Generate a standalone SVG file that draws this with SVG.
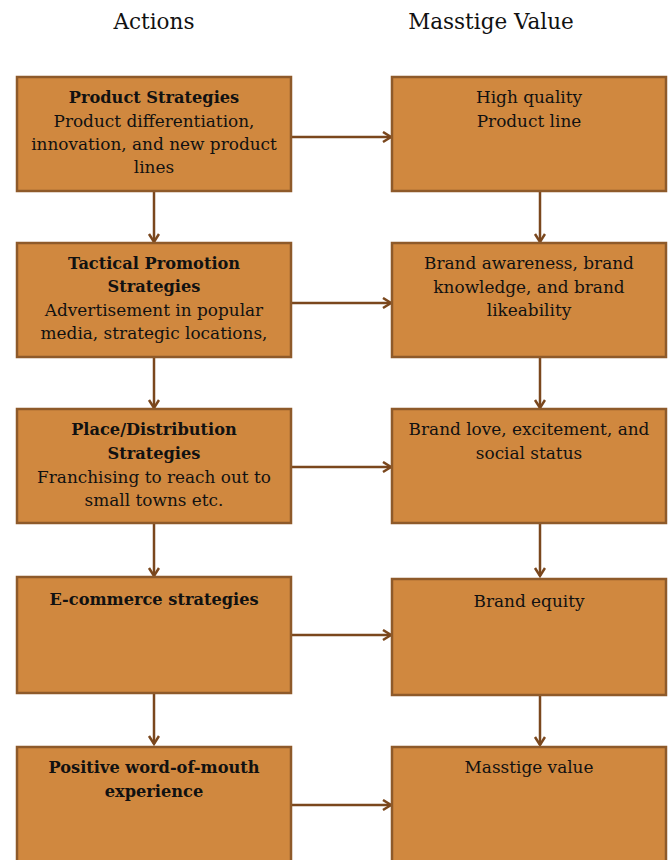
<svg xmlns="http://www.w3.org/2000/svg" width="672" height="860" viewBox="0 0 672 860">
<defs>
<marker id="ah" markerUnits="userSpaceOnUse" markerWidth="14" markerHeight="14" refX="10" refY="6" orient="auto">
<path d="M2,1 L10,6 L2,11" fill="none" stroke="#7A471D" stroke-width="2.5"/>
</marker>
<style>
.box{fill:#D0883F;stroke:#8E5A2A;stroke-width:2.5}
.t{font-family:"DejaVu Serif","Liberation Serif",serif;font-size:16.9px;fill:#111;text-anchor:middle}
.b{font-weight:bold;font-size:16.2px}
.h{font-family:"DejaVu Serif","Liberation Serif",serif;font-size:21.5px;fill:#111;text-anchor:middle}
.c{stroke:#7A471D;stroke-width:2.5;fill:none;marker-end:url(#ah)}
</style>
</defs>
<rect width="672" height="860" fill="#fff"/>
<text class="h" x="154" y="29">Actions</text>
<text class="h" x="491" y="29">Masstige Value</text>
<g id="connectors">
<line class="c" x1="291" y1="137" x2="391" y2="137"/>
<line class="c" x1="291" y1="303" x2="391" y2="303"/>
<line class="c" x1="291" y1="467" x2="391" y2="467"/>
<line class="c" x1="291" y1="635" x2="391" y2="635"/>
<line class="c" x1="291" y1="805" x2="391" y2="805"/>
<line class="c" x1="154" y1="191" x2="154" y2="242"/>
<line class="c" x1="154" y1="357" x2="154" y2="408"/>
<line class="c" x1="154" y1="523" x2="154" y2="576"/>
<line class="c" x1="154" y1="693" x2="154" y2="744"/>
<line class="c" x1="540" y1="191" x2="540" y2="242"/>
<line class="c" x1="540" y1="357" x2="540" y2="408"/>
<line class="c" x1="540" y1="523" x2="540" y2="576"/>
<line class="c" x1="540" y1="695" x2="540" y2="745"/>
</g>
<g id="a1"><rect class="box" x="17" y="77" width="274" height="114"/>
<text class="t b" x="154" y="103">Product Strategies</text>
<text class="t" x="154" y="127">Product differentiation,</text>
<text class="t" x="154" y="150">innovation, and new product</text>
<text class="t" x="154" y="173">lines</text></g>
<g id="v1"><rect class="box" x="392" y="77" width="274" height="114"/>
<text class="t" x="529" y="103">High quality</text>
<text class="t" x="529" y="127">Product line</text></g>
<g id="a2"><rect class="box" x="17" y="243" width="274" height="114"/>
<text class="t b" x="154" y="269">Tactical Promotion</text>
<text class="t b" x="154" y="292">Strategies</text>
<text class="t" x="154" y="316">Advertisement in popular</text>
<text class="t" x="154" y="339">media, strategic locations,</text></g>
<g id="v2"><rect class="box" x="392" y="243" width="274" height="114"/>
<text class="t" x="529" y="269">Brand awareness, brand</text>
<text class="t" x="529" y="293">knowledge, and brand</text>
<text class="t" x="529" y="316">likeability</text></g>
<g id="a3"><rect class="box" x="17" y="409" width="274" height="114"/>
<text class="t b" x="154" y="435">Place/Distribution</text>
<text class="t b" x="154" y="459">Strategies</text>
<text class="t" x="154" y="483">Franchising to reach out to</text>
<text class="t" x="154" y="506">small towns etc.</text></g>
<g id="v3"><rect class="box" x="392" y="409" width="274" height="114"/>
<text class="t" x="529" y="435">Brand love, excitement, and</text>
<text class="t" x="529" y="459">social status</text></g>
<g id="a4"><rect class="box" x="17" y="577" width="274" height="116"/>
<text class="t b" x="154" y="605">E-commerce strategies</text></g>
<g id="v4"><rect class="box" x="392" y="579" width="274" height="116"/>
<text class="t" x="529" y="607">Brand equity</text></g>
<g id="a5"><rect class="box" x="17" y="747" width="274" height="120"/>
<text class="t b" x="154" y="773">Positive word-of-mouth</text>
<text class="t b" x="154" y="797">experience</text></g>
<g id="v5"><rect class="box" x="392" y="747" width="274" height="120"/>
<text class="t" x="529" y="773">Masstige value</text></g>
</svg>
